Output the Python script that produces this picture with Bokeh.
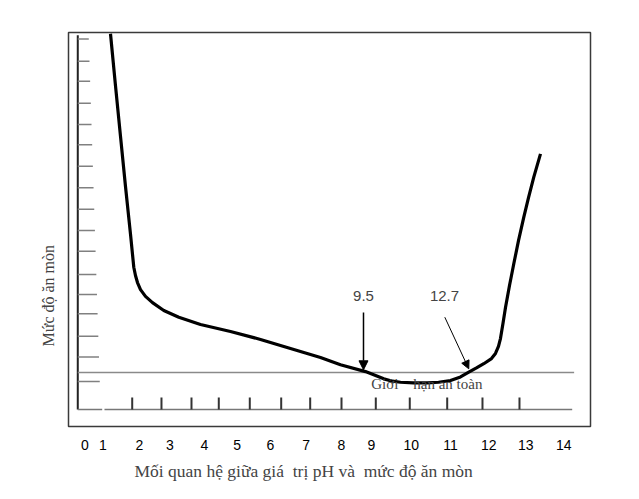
import numpy as np
from bokeh.plotting import figure
from bokeh.models import Range1d, FixedTicker, Label, Arrow, NormalHead, Title
from bokeh.embed import file_html
from bokeh.resources import INLINE

# ---- data ----
# corrosion curve: pH (as drawn) vs corrosion level
ph_values = [1.356, 1.498, 1.641, 1.783, 1.926, 2.019, 2.067, 2.124, 2.210, 2.352, 2.551,
             2.873, 3.300, 3.917, 4.771, 5.625, 6.478, 7.332, 7.901, 8.613, 9.133,
             9.381, 9.609, 9.979, 10.369, 10.691, 11.032, 11.316, 11.552, 11.771,
             11.979, 12.198, 12.312, 12.397, 12.454, 12.525, 12.597, 12.711, 12.833,
             12.967, 13.118, 13.252, 13.402, 13.593]
corrosion = [17.64, 15.21, 12.82, 10.47, 8.22, 6.68, 6.29, 5.96, 5.63, 5.31, 5.02,
             4.65, 4.33, 3.99, 3.66, 3.29, 2.86, 2.44, 2.10, 1.78, 1.44,
             1.33, 1.28, 1.25, 1.25, 1.28, 1.36, 1.53, 1.75, 1.95,
             2.15, 2.39, 2.63, 2.96, 3.33, 4.04, 4.79, 5.82, 6.84,
             7.93, 9.03, 9.95, 10.91, 12.00]

# x tick labels and where they sit on the drawing
x_tick_labels = ["0", "1", "2", "3", "4", "5", "6", "7", "8", "9", "10", "11", "12", "13", "14"]
x_label_pos = [0.625, 1.137, 2.181, 3.044, 4.031, 4.962, 5.909, 6.925, 7.930, 8.784,
               9.913, 11.032, 12.122, 13.175, 14.256]

# inner tick marks of the drawn frame
inner_x_ticks = [1.974, 2.807, 3.661, 4.438, 5.320, 6.214, 7.039, 7.930, 8.906, 9.873,
                 10.938, 11.942, 12.995]
inner_y_ticks = [1.31, 2.46, 3.44, 4.49, 5.40, 6.34, 7.43, 8.40, 9.40, 10.41, 11.42,
                 12.43, 13.38, 14.38, 15.41, 16.35, 17.40]

safe_limit = 1.737          # "Giới hạn an toàn"
marker_left = {"label": "9.5", "x": 8.556, "y_from": 4.554, "y_to": 1.864}
marker_right = {"label": "12.7", "x_from": 10.870, "y_from": 4.333, "x_to": 11.552, "y_to": 1.911}

x_title = "Mối quan hệ giữa giá\u00a0 trị pH và\u00a0 mức độ ăn mòn"
y_title = "Mức độ ăn mòn"
safe_text = "Giới\u00a0\u00a0\u00a0 hạn an toàn"

# ---- geometry of the drawing (styling) ----
FRAME_X0 = 0.425
FRAME_TOP = 17.57
PX_X = 1 / 35.14   # data units per pixel
PX_Y = 1 / 21.3

p = figure(width=639, height=499, output_backend="svg", toolbar_location=None,
           x_range=Range1d(0.161, 15.016), y_range=Range1d(-0.798, 17.70),
           y_axis_location=None, min_border_left=68, min_border_right=49,
           min_border_top=32, min_border_bottom=73, background_fill_color="white",
           border_fill_color="white")
p.xgrid.visible = False
p.ygrid.visible = False
p.outline_line_color = "#3a3a3a"
p.outline_line_width = 1.5

# axis with the 0..14 labels below the box
ax = p.xaxis[0]
ax.ticker = FixedTicker(ticks=x_label_pos)
ax.major_label_overrides = {pos: lab for pos, lab in zip(x_label_pos, x_tick_labels)}
ax.axis_line_color = None
ax.major_tick_line_color = None
ax.minor_tick_line_color = None
ax.major_tick_out = 0
ax.major_tick_in = 0
ax.major_label_standoff = 13
ax.major_label_text_font = "Liberation Sans"
ax.major_label_text_font_size = "14px"
ax.major_label_text_color = "black"

# axis titles
p.add_layout(Title(text=x_title, align="left", offset=66,
                   text_font="Liberation Serif", text_font_size="17.5px",
                   text_font_style="normal", standoff=12), "below")
p.add_layout(Title(text=y_title, align="left", offset=80,
                   text_font="Liberation Serif", text_font_size="16px",
                   text_font_style="normal", standoff=23), "left")

# inner frame lines
p.segment(x0=[FRAME_X0], y0=[0], x1=[FRAME_X0], y1=[FRAME_TOP], line_color="#222222", line_width=2)
p.segment(x0=[FRAME_X0, 1.185], y0=[0, 0], x1=[1.12, 14.495], y1=[0, 0],
          line_color="#777777", line_width=1.6)

# inner y ticks (tapering lengths)
yt = np.array(inner_y_ticks)
lens = (22 - 11 * (yt - yt.min()) / (yt.max() - yt.min())) * PX_X
p.segment(x0=[FRAME_X0] * len(yt), y0=yt, x1=FRAME_X0 + lens, y1=yt,
          line_color="#808080", line_width=1.5)

# inner x ticks
p.segment(x0=inner_x_ticks, y0=[0] * len(inner_x_ticks), x1=inner_x_ticks,
          y1=[12 * PX_Y] * len(inner_x_ticks), line_color="#333333", line_width=2)

# safe limit line
p.segment(x0=[FRAME_X0], y0=[safe_limit], x1=[14.55], y1=[safe_limit],
          line_color="#8a8a8a", line_width=1.6)

# curve
p.line(ph_values, corrosion, line_color="black", line_width=3.2, line_join="round")

# arrows
p.add_layout(Arrow(end=NormalHead(size=9, fill_color="black", line_color="black"),
                   x_start=marker_left["x"], y_start=marker_left["y_from"],
                   x_end=marker_left["x"], y_end=marker_left["y_to"],
                   line_color="black", line_width=1.5))
p.add_layout(Arrow(end=NormalHead(size=8, fill_color="black", line_color="black"),
                   x_start=marker_right["x_from"], y_start=marker_right["y_from"],
                   x_end=marker_right["x_to"], y_end=marker_right["y_to"],
                   line_color="black", line_width=1))

# texts inside the box
p.add_layout(Label(x=marker_left["x"], y=5.33, text=marker_left["label"],
                   text_align="center", text_baseline="middle",
                   text_font="Liberation Sans", text_font_size="15px"))
p.add_layout(Label(x=10.861, y=5.33, text=marker_right["label"],
                   text_align="center", text_baseline="middle",
                   text_font="Liberation Sans", text_font_size="15px"))
p.add_layout(Label(x=8.775, y=1.22, text=safe_text, text_align="left",
                   text_baseline="middle", text_font="Liberation Serif",
                   text_font_size="15px"))

open("out.html", "w").write(file_html(p, INLINE))
